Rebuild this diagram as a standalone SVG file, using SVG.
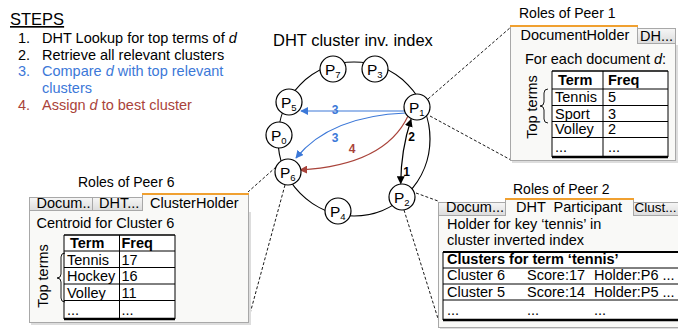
<svg xmlns="http://www.w3.org/2000/svg" width="678" height="329" viewBox="0 0 678 329">
<defs>
<linearGradient id="tabg" x1="0" y1="0" x2="0" y2="1">
<stop offset="0" stop-color="#f6f6f6"/><stop offset="1" stop-color="#dcdcdc"/>
</linearGradient>
<marker id="ab" viewBox="0 0 10 10" refX="9" refY="5" markerWidth="8" markerHeight="8" markerUnits="userSpaceOnUse" orient="auto"><path d="M0,0 L10,5 L0,10 Z" fill="#3c78d8"/></marker>
<marker id="ar" viewBox="0 0 10 10" refX="9" refY="5" markerWidth="8" markerHeight="8" markerUnits="userSpaceOnUse" orient="auto"><path d="M0,0 L10,5 L0,10 Z" fill="#a9433a"/></marker>
<marker id="ak" viewBox="0 0 10 10" refX="9" refY="5" markerWidth="8" markerHeight="8" markerUnits="userSpaceOnUse" orient="auto-start-reverse"><path d="M0,0 L10,5 L0,10 Z" fill="#000"/></marker>
</defs>
<style>
text{font-family:"Liberation Sans",Arial,sans-serif;fill:#000}
.t{font-size:14.5px}
.b{font-weight:bold}
.it{font-style:italic}
.blue{fill:#3c78d8}
.red{fill:#a9433a}
.node circle{fill:#fff;stroke:#000;stroke-width:1.2}
.np{font-size:15.5px}
.ns{font-size:9.5px}
.dash{stroke:#000;stroke-width:0.9;stroke-dasharray:3,2;fill:none}
.body{fill:#f9f9f7;stroke:#a8a8a8;stroke-width:1}
.shadow{fill:#dddddd}
.tab{fill:url(#tabg);stroke:#a8a8a8;stroke-width:1}
.atab{fill:#f9f9f7;stroke:#a8a8a8;stroke-width:1}
.orange{stroke:#f0a030;stroke-width:2}
.grid{stroke:#000;stroke-width:1;fill:none}
.thick{stroke:#000;stroke-width:2.5}
.brace{fill:none;stroke:#000;stroke-width:0.9}
</style>

<!-- Steps -->
<g id="steps">
<text x="10" y="25" font-size="16.5" text-decoration="underline">STEPS</text>
<text class="t" x="18" y="43">1.</text><text class="t" x="42" y="43">DHT Lookup for top terms of <tspan class="it">d</tspan></text>
<text class="t" x="18" y="59.5">2.</text><text class="t" x="42" y="59.5">Retrieve all relevant clusters</text>
<text class="t blue" x="18" y="76">3.</text><text class="t blue" x="42" y="76">Compare <tspan class="it">d</tspan> with top relevant</text>
<text class="t blue" x="42" y="92.5">clusters</text>
<text class="t red" x="18" y="110">4.</text><text class="t red" x="42" y="110">Assign <tspan class="it">d</tspan> to best cluster</text>
</g>

<text x="273" y="46" font-size="16.5">DHT cluster inv. index</text>

<!-- connectors -->
<g id="connectors">
<ellipse cx="354" cy="139" rx="76" ry="77" fill="none" stroke="#000" stroke-width="1.2"/>
<line class="dash" x1="428" y1="99" x2="511" y2="27"/>
<line class="dash" x1="430" y1="116" x2="511" y2="160"/>
<line class="dash" x1="276" y1="167" x2="248" y2="192"/>
<line class="dash" x1="285" y1="185" x2="248" y2="321"/>
<line class="dash" x1="416" y1="193" x2="438" y2="201"/>
<line class="dash" x1="404" y1="210" x2="440" y2="325"/>
<path d="M405,111 L301,111" fill="none" stroke="#3c78d8" stroke-width="1.2" marker-end="url(#ab)"/>
<path d="M406,113 Q330,116 296,158" fill="none" stroke="#3c78d8" stroke-width="1.2" marker-end="url(#ab)"/>
<path d="M408,116 Q385,165 300,170" fill="none" stroke="#a9433a" stroke-width="1.2" marker-end="url(#ar)"/>
<path d="M411,119.5 Q401,150 400.7,183.5" fill="none" stroke="#000" stroke-width="1.2" marker-start="url(#ak)" marker-end="url(#ak)"/>
<text x="335" y="114" font-size="12" class="b blue" text-anchor="middle">3</text>
<text x="335" y="142" font-size="12" class="b blue" text-anchor="middle">3</text>
<text x="352" y="153" font-size="12" class="b red" text-anchor="middle">4</text>
<text x="411.5" y="141" font-size="12" class="b" text-anchor="middle">2</text>
<text x="406.5" y="176" font-size="12" class="b" text-anchor="middle">1</text>
</g>

<!-- nodes -->
<g id="P7" class="node"><circle cx="333" cy="69" r="13"/><text class="np" x="325" y="74.5">P<tspan class="ns" dy="3">7</tspan></text></g>
<g id="P3" class="node"><circle cx="375" cy="69" r="13"/><text class="np" x="367" y="74.5">P<tspan class="ns" dy="3">3</tspan></text></g>
<g id="P5" class="node"><circle cx="289" cy="102" r="13"/><text class="np" x="281" y="107.5">P<tspan class="ns" dy="3">5</tspan></text></g>
<g id="P1" class="node"><circle cx="417" cy="107" r="13"/><text class="np" x="409" y="112.5">P<tspan class="ns" dy="3">1</tspan></text></g>
<g id="P0" class="node"><circle cx="279" cy="135" r="13"/><text class="np" x="271" y="140.5">P<tspan class="ns" dy="3">0</tspan></text></g>
<g id="P6" class="node"><circle cx="288" cy="172" r="13"/><text class="np" x="280" y="177.5">P<tspan class="ns" dy="3">6</tspan></text></g>
<g id="P2" class="node"><circle cx="402" cy="197" r="13"/><text class="np" x="394" y="202.5">P<tspan class="ns" dy="3">2</tspan></text></g>
<g id="P4" class="node"><circle cx="338" cy="211" r="13"/><text class="np" x="330" y="216.5">P<tspan class="ns" dy="3">4</tspan></text></g>

<!-- Peer 1 panel -->
<g id="peer1">
<text x="519" y="18" font-size="14">Roles of Peer 1</text>
<rect class="shadow" x="512" y="45" width="166" height="118"/>
<rect class="body" x="510.5" y="43.5" width="165" height="117"/>
<rect class="tab" x="637.5" y="28.5" width="38" height="15"/>
<rect class="atab" x="510.5" y="26.5" width="127" height="17"/>
<rect x="511" y="42" width="126" height="3" fill="#f9f9f7"/>
<line class="orange" x1="510" y1="26" x2="638" y2="26"/>
<text class="t" x="520.5" y="39.5">DocumentHolder</text>
<text class="t" x="640" y="40.5">DH...</text>
<text class="t" x="525" y="64">For each document <tspan class="it">d</tspan>:</text>
<rect x="552" y="71" width="116" height="86" fill="#fff"/>
<path class="grid" d="M552,71 L552,157 M603,71 L603,157 M668,71 L668,157 M552,89 L668,89 M552,105.5 L668,105.5 M552,121.5 L668,121.5 M552,137.5 L668,137.5"/>
<line x1="552" y1="71" x2="668" y2="71" stroke="#000" stroke-width="1.5"/>
<line class="thick" x1="552" y1="157" x2="668" y2="157"/>
<text class="t b" x="558" y="85">Term</text><text class="t b" x="608" y="85">Freq</text>
<text class="t" x="555" y="102">Tennis</text><text class="t" x="608" y="102">5</text>
<text class="t" x="555" y="118.5">Sport</text><text class="t" x="608" y="118.5">3</text>
<text class="t" x="555" y="134">Volley</text><text class="t" x="608" y="134">2</text>
<text class="t" x="555" y="152">...</text><text class="t" x="608" y="152">...</text>
<text class="t" transform="translate(537,107) rotate(-90)" text-anchor="middle">Top terms</text>
<path class="brace" d="M548,89 Q544,89 544,93 L544,102 Q544,106 540,106 Q544,106 544,110 L544,119 Q544,123 548,123"/>
</g>

<!-- Peer 6 panel -->
<g id="peer6">
<text x="78" y="187" font-size="14">Roles of Peer 6</text>
<rect class="shadow" x="31" y="212" width="220" height="113"/>
<rect class="body" x="29.5" y="210.5" width="219" height="112"/>
<rect class="tab" x="29.5" y="197.5" width="63" height="13"/>
<rect class="tab" x="92.5" y="197.5" width="50" height="13"/>
<rect class="atab" x="142.5" y="194.5" width="106" height="16"/>
<rect x="143" y="209" width="105" height="3" fill="#f9f9f7"/>
<line class="orange" x1="142" y1="194" x2="249" y2="194"/>
<text class="t" x="36.5" y="207.5">Docum..</text>
<text class="t" x="99" y="207.5">DHT...</text>
<text class="t" x="150" y="207.5">ClusterHolder</text>
<text class="t" x="36.5" y="228">Centroid for Cluster 6</text>
<rect x="64" y="235" width="111" height="84" fill="#fff"/>
<path class="grid" d="M64,235 L64,319 M119.5,235 L119.5,319 M175,235 L175,319 M64,251 L175,251 M64,267.5 L175,267.5 M64,284 L175,284 M64,300.5 L175,300.5"/>
<line x1="64" y1="235" x2="175" y2="235" stroke="#000" stroke-width="1.5"/>
<line class="thick" x1="64" y1="319" x2="175" y2="319"/>
<text class="t b" x="70" y="248">Term</text><text class="t b" x="121.5" y="248">Freq</text>
<text class="t" x="67" y="264.5">Tennis</text><text class="t" x="121.5" y="264.5">17</text>
<text class="t" x="67" y="281">Hockey</text><text class="t" x="121.5" y="281">16</text>
<text class="t" x="67" y="297.5">Volley</text><text class="t" x="121.5" y="297.5">11</text>
<text class="t" x="67" y="315">...</text><text class="t" x="121.5" y="315">...</text>
<text class="t" transform="translate(48,276) rotate(-90)" text-anchor="middle">Top terms</text>
<path class="brace" d="M65,253 Q61,253 61,257 L61,274 Q61,278 57,278 Q61,278 61,282 L61,298 Q61,302 65,302"/>
</g>

<!-- Peer 2 panel -->
<g id="peer2">
<text x="513" y="194" font-size="14">Roles of Peer 2</text>
<rect class="shadow" x="440" y="217" width="260" height="113"/>
<rect class="body" x="438.5" y="215.5" width="260" height="112"/>
<rect class="tab" x="438.5" y="202.5" width="67" height="13"/>
<rect class="tab" x="633.5" y="202.5" width="60" height="13"/>
<rect class="atab" x="505.5" y="199.5" width="128" height="16"/>
<rect x="506" y="214" width="127" height="3" fill="#f9f9f7"/>
<line class="orange" x1="505" y1="199" x2="634" y2="199"/>
<text class="t" x="446" y="212">Docum...</text>
<text class="t" x="516" y="212" xml:space="preserve">DHT  Participant</text>
<text x="634.5" y="212" font-size="13.5">Clust...</text>
<text class="t" x="447" y="229">Holder for key ‘tennis’ in</text>
<text class="t" x="447" y="245">cluster inverted index</text>
<rect x="443" y="252" width="240" height="68" fill="#fff"/>
<path class="grid" d="M443,252 L443,320 M443,268 L683,268 M443,284 L683,284 M443,300 L683,300"/>
<line x1="443" y1="252" x2="683" y2="252" stroke="#000" stroke-width="2"/>
<line class="thick" x1="443" y1="320" x2="683" y2="320"/>
<text class="t b" x="447" y="264">Clusters for term ‘tennis’</text>
<text class="t" x="447" y="280">Cluster 6</text><text class="t" x="527" y="280">Score:17</text><text class="t" x="594" y="280">Holder:P6 ...</text>
<text class="t" x="447" y="296.5">Cluster 5</text><text class="t" x="527" y="296.5">Score:14</text><text class="t" x="594" y="296.5">Holder:P5 ...</text>
<text class="t" x="447" y="315">...</text><text class="t" x="527" y="315">...</text><text class="t" x="594" y="315">...</text>
</g>
</svg>
